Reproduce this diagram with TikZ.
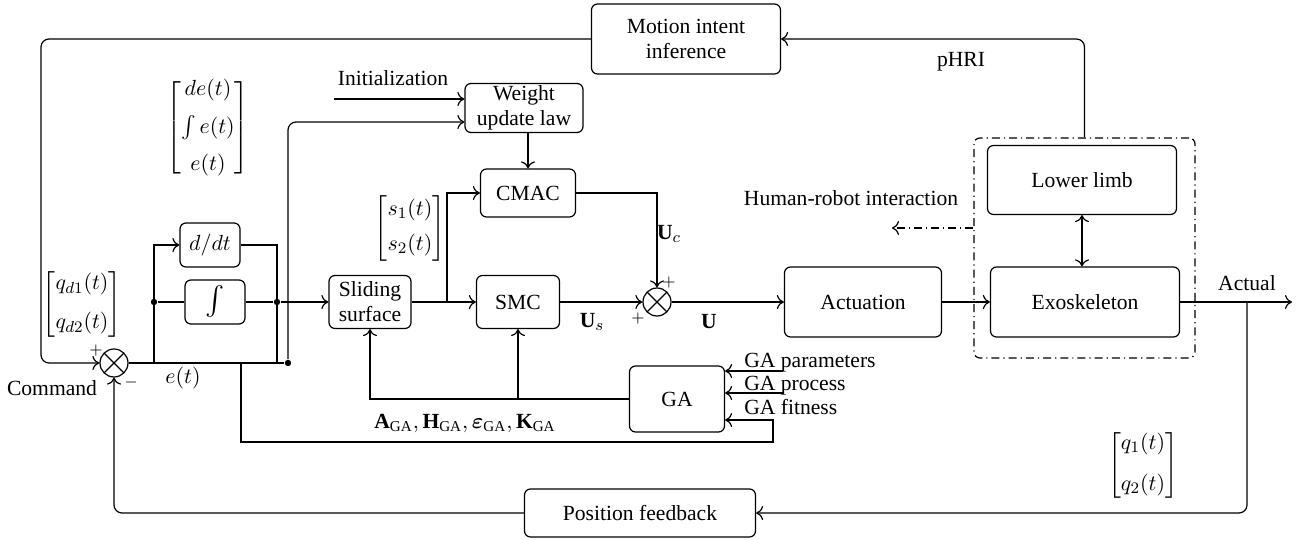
\documentclass[tikz,border=0pt]{standalone}
\usepackage{fontspec}
\setmainfont{Liberation Serif}
\usepackage{amsmath}
\usepackage{bm}
\usetikzlibrary{arrows.meta}

\tikzset{
	blk/.style={draw, rounded corners=3pt, align=center, inner sep=1pt},
	sumnode/.style={draw, circle, minimum size=14pt, inner sep=0pt,
		path picture={\draw (path picture bounding box.north west) -- (path picture bounding box.south east)
			(path picture bounding box.south west) -- (path picture bounding box.north east);}},
	jdot/.style={circle, fill, inner sep=0pt, minimum size=3.2pt},
	sgn/.style={font=\footnotesize},
	dashdot/.style={dash pattern=on 4pt off 2pt on 0.6pt off 2pt}
}

\begin{document}
\begin{tikzpicture}[x=0.5pt, y=-0.5pt, line width=0.6pt, font=\fontsize{10.8}{12.5}\selectfont, >={To[length=3.5pt,width=7pt]}]
		\useasboundingbox (0,0) rectangle (1307,540);
		% blocks
		\node[blk, minimum width=94.5pt, minimum height=35pt] (motion) at (686,39) {Motion intent\\inference};
		\node[blk, minimum width=59pt, minimum height=24.5pt] (weight) at (524,108) {Weight\\update law};
		\node[blk, minimum width=47.5pt, minimum height=24pt] (cmac) at (528,193) {CMAC};
		\node[blk, minimum width=41pt, minimum height=26.5pt] (sliding) at (370,302) {Sliding\\surface};
		\node[blk, minimum width=41.5pt, minimum height=26.5pt] (smc) at (518,302) {SMC};
		\node[blk, minimum width=47.5pt, minimum height=33pt] (ga) at (677,399) {GA};
		\node[blk, minimum width=78.5pt, minimum height=35pt] (act) at (863,302) {Actuation};
		\node[blk, minimum width=94.5pt, minimum height=34.5pt] (limb) at (1082,180) {Lower limb};
		\node[blk, minimum width=94.5pt, minimum height=35pt] (exo) at (1085,302) {Exoskeleton};
		\node[blk, minimum width=115.5pt, minimum height=24pt] (posfb) at (640,513) {Position feedback};
		\node[blk, minimum width=30pt, minimum height=22pt] (ddt) at (210,245) {$d/dt$};
		\node[blk, minimum width=30pt, minimum height=22pt] (intg) at (215,302) {\fontsize{14}{14}\selectfont$\int$};
		\node[sumnode] (sum1) at (114,363) {};
		\node[sumnode] (sum2) at (657,302) {};
		\node[draw, dashdot, rounded corners=3pt, minimum width=110.5pt, minimum height=110pt] (hri) at (1084.5,248) {};

		% vectors and labels
		\node (emat) at (208,128) {$\begin{bmatrix} de(t)\\[6pt] \int e(t)\\[6pt] e(t)\end{bmatrix}$};
		\node (qdmat) at (82,304) {$\begin{bmatrix} q_{d1}(t)\\[7pt] q_{d2}(t)\end{bmatrix}$};
		\node (smat) at (410,228) {$\begin{bmatrix} s_1(t)\\[5pt] s_2(t)\end{bmatrix}$};
		\node (qmat) at (1143,465) {$\begin{bmatrix} q_1(t)\\[8pt] q_2(t)\end{bmatrix}$};
		\node (cmd) at (52,388) {Command};
		\node[sgn] (p1) at (96,350) {$+$};
		\node[sgn] (m1) at (131,382) {$-$};
		\node[sgn] (p2) at (669,282) {$+$};
		\node[sgn] (p3) at (638,318) {$+$};
		\node (elab) at (183,378) {$e(t)$};
		\node (init) at (393,78) {Initialization};
		\node (phri) at (961,62) {pHRI};
		\node (hrtxt) at (851,198) {Human-robot interaction};
		\node (actual) at (1247,283) {Actual};
		\node (uc) at (669,234) {$\mathbf{U}_c$};
		\node (us) at (592,322) {$\mathbf{U}_s$};
		\node (u) at (709,322) {$\mathbf{U}$};
		\node (gains) at (465,423) {$\mathbf{A}_{\mathrm{GA}}, \mathbf{H}_{\mathrm{GA}}, \bm{\varepsilon}_{\mathrm{GA}}, \mathbf{K}_{\mathrm{GA}}$};
		\node[anchor=base west] (gapar) at (737,367) {GA parameters};
		\node[anchor=base west] (gapro) at (737,390) {GA process};
		\node[anchor=base west] (gafit) at (737,414) {GA fitness};

		% junctions
		\coordinate (b1) at (154,363);
		\node[jdot] (d1) at (154,302) {};
		\node[jdot] (d2) at (277,302) {};
		\node[jdot] (d3) at (288,363) {};
		\coordinate (j1) at (447,302);
		\coordinate (et) at (241,363);
		\coordinate (initin) at (334,99);
		\coordinate (hrl) at (892,228);
		\coordinate (tap) at (1247,302);
		\coordinate (actout) at (1292,302);
		\coordinate (gp) at (783,371);
		\coordinate (gq) at (783,393);
		\coordinate (gf) at (773,420);

		% connections
		\draw[->, rounded corners=4pt] (motion.west) -- (41,39) -- (41,363) -- (sum1.west);
		\draw[->, rounded corners=4pt] (hri.north) |- (motion.east);
		\draw (sum1.east) -- (d3);
		\draw[->] (b1) |- (ddt.west);
		\draw (d1) -- (intg.west);
		\draw (ddt.east) -| (277,363);
		\draw (intg.east) -- (d2);
		\draw[->] (d2) -- (sliding.west);
		\draw[->, rounded corners=4pt] (d3) |- ([yshift=-7pt]weight.west);
		\draw[->] (initin) -- ([yshift=4.5pt]weight.west);
		\draw[->] (cmac.north |- weight.south) -- (cmac.north);
		\draw[->] (sliding.east) -- (smc.west);
		\draw[->] (j1) |- (cmac.west);
		\draw[->] (cmac.east) -| (sum2.north);
		\draw[->] (smc.east) -- (sum2.west);
		\draw[->] (sum2.east) -- (act.west);
		\draw[->] (act.east) -- (exo.west);
		\draw[<->] (limb.south) -- (limb.south |- exo.north);
		\draw[->, dashdot] (hri.west |- hrl) -- (hrl);
		\draw[->] (exo.east) -- (actout);
		\draw[->, rounded corners=4pt] (tap) |- (posfb.east);
		\draw[->, rounded corners=4pt] (posfb.west) -| (sum1.south);
		\draw[->] (ga.west) -| (sliding.south);
		\draw[->] (smc.south |- ga.west) -- (smc.south);
		\draw[->] (et) -- (241,442) -- (773,442) -- (gf) -- (ga.east |- gf);
		\draw[->] (gp) -- (ga.east |- gp);
		\draw[->] (gq) -- (ga.east |- gq);
\end{tikzpicture}
\end{document}
